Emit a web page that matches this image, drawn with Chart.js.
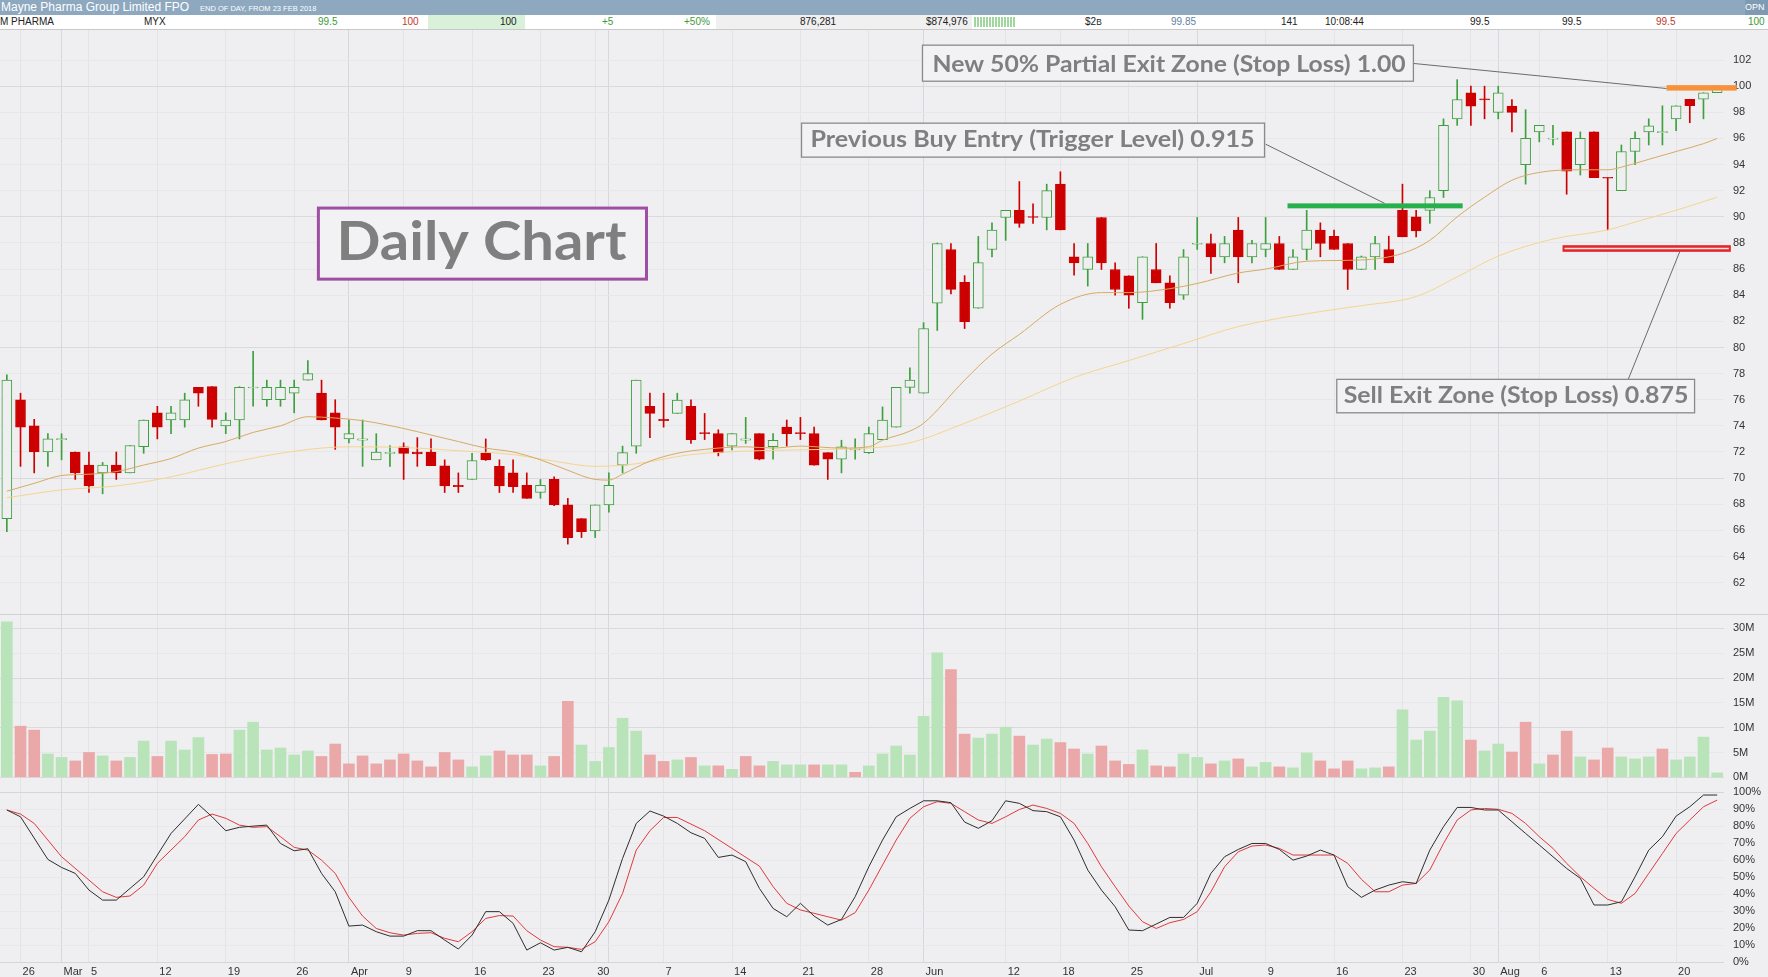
<!DOCTYPE html>
<html lang="en">
<head>
<meta charset="UTF-8">
<title>Mayne Pharma Group Limited FPO - Daily Chart</title>
<script src="https://cdn.jsdelivr.net/npm/chart.js"></script>
<style>
  html, body { margin: 0; padding: 0; background: #efeff1; }
  body { width: 1768px; height: 977px; overflow: hidden; position: relative; font-family: "Liberation Sans", Arial, sans-serif; }
  #hdr { position: absolute; left: 0; top: 0; width: 1768px; height: 15px; background: #8da8bf; color: #fff; }
  #hdr .t { position: absolute; left: 1px; top: 0; font-size: 12px; line-height: 15px; }
  #hdr .s { position: absolute; left: 200px; top: 1px; font-size: 7.5px; line-height: 15px; }
  #hdr .o { position: absolute; left: 1745px; top: 0; width: 23px; height: 15px; background: #7f9bb3; font-size: 9px; line-height: 15px; }
  #row { position: absolute; left: 0; top: 15px; width: 1768px; height: 14px; background: #fff; border-bottom: 1px solid #c9c9cc; font-size: 10px; line-height: 14px; color: #222; }
  #row span { position: absolute; top: 0; white-space: nowrap; }
  #row .g { color: #3c9a3c; }
  #row .r { color: #c0392b; }
  #row .b { color: #5f7f9f; }
  #wrap { position: absolute; left: 0; top: 30px; width: 1768px; height: 947px; }
</style>
</head>
<body>
<div id="hdr">
  <span class="t">Mayne Pharma Group Limited FPO</span>
  <span class="s">END OF DAY, FROM 23 FEB 2018</span>
  <span class="o">OPN</span>
</div>
<div id="row">
  <span style="left:428px;width:97px;height:14px;background:#d8f1d8"></span>
  <span style="left:716px;width:256px;height:14px;background:#f0f0f0"></span>
  <span style="left:974px;top:2px;width:41px;height:10px;background:repeating-linear-gradient(90deg,#9fd79f 0 2px,transparent 2px 3px)"></span>
  <span style="left:0">M PHARMA</span>
  <span style="left:144px">MYX</span>
  <span class="g" style="left:318px">99.5</span>
  <span class="r" style="left:402px">100</span>
  <span style="left:500px">100</span>
  <span class="g" style="left:602px">+5</span>
  <span class="g" style="left:684px">+50%</span>
  <span style="left:800px">876,281</span>
  <span style="left:926px">$874,976</span>
  <span style="left:1085px">$2<small>B</small></span>
  <span class="b" style="left:1171px">99.85</span>
  <span style="left:1281px">141</span>
  <span style="left:1325px">10:08:44</span>
  <span style="left:1470px">99.5</span>
  <span style="left:1562px">99.5</span>
  <span class="r" style="left:1656px">99.5</span>
  <span class="g" style="left:1748px">100</span>
</div>
<div id="wrap"><canvas id="chart"></canvas></div>

<script>
// trading days shown on the chart
const dates = [
  '23 Feb', '26 Feb', '27 Feb', '28 Feb', '1 Mar', '2 Mar',
  '5 Mar', '6 Mar', '7 Mar', '8 Mar', '9 Mar', '12 Mar', '13 Mar', '14 Mar', '15 Mar', '16 Mar',
  '19 Mar', '20 Mar', '21 Mar', '22 Mar', '23 Mar', '26 Mar', '27 Mar', '28 Mar', '29 Mar',
  '3 Apr', '4 Apr', '5 Apr', '6 Apr', '9 Apr', '10 Apr', '11 Apr', '12 Apr', '13 Apr',
  '16 Apr', '17 Apr', '18 Apr', '19 Apr', '20 Apr', '23 Apr', '24 Apr', '26 Apr', '27 Apr', '30 Apr',
  '1 May', '2 May', '3 May', '4 May', '7 May', '8 May', '9 May', '10 May', '11 May',
  '14 May', '15 May', '16 May', '17 May', '18 May', '21 May', '22 May', '23 May', '24 May', '25 May',
  '28 May', '29 May', '30 May', '31 May', '1 Jun', '4 Jun', '5 Jun', '6 Jun', '7 Jun', '8 Jun',
  '12 Jun', '13 Jun', '14 Jun', '15 Jun', '18 Jun', '19 Jun', '20 Jun', '21 Jun', '22 Jun',
  '25 Jun', '26 Jun', '27 Jun', '28 Jun', '29 Jun', '2 Jul', '3 Jul', '4 Jul', '5 Jul', '6 Jul',
  '9 Jul', '10 Jul', '11 Jul', '12 Jul', '13 Jul', '16 Jul', '17 Jul', '18 Jul', '19 Jul', '20 Jul',
  '23 Jul', '24 Jul', '25 Jul', '26 Jul', '27 Jul', '30 Jul', '31 Jul', '1 Aug', '2 Aug', '3 Aug',
  '6 Aug', '7 Aug', '8 Aug', '9 Aug', '10 Aug', '13 Aug', '14 Aug', '15 Aug', '16 Aug', '17 Aug',
  '20 Aug', '21 Aug', '22 Aug', '23 Aug'
];

// prices in cents
const opens = [
  66.9, 76.0, 74.0, 72.0, 72.95, 72.0, 71.0, 70.4, 71.0, 70.4,
  72.4, 75.0, 74.45, 74.45, 76.95, 77.0, 74.0, 74.45, 76.9, 76.0,
  76.0, 76.5, 77.5, 76.5, 75.0, 73.0, 72.9, 71.4, 71.9, 72.4,
  72.0, 72.0, 70.95, 69.45, 69.9, 71.9, 70.9, 70.4, 69.45, 68.9,
  69.9, 67.95, 66.9, 65.95, 67.95, 71.0, 72.45, 75.5, 74.5, 74.95,
  75.5, 73.45, 73.4, 72.45, 72.9, 73.4, 72.4, 73.9, 73.45, 73.4,
  71.95, 71.45, 72.15, 71.95, 72.95, 73.9, 76.95, 76.5, 83.4, 87.5,
  84.98, 83.0, 87.5, 89.95, 90.5, 90.0, 89.95, 92.5, 86.94, 85.97,
  89.95, 85.97, 85.49, 83.42, 85.97, 84.95, 84.0, 87.9, 87.96, 86.94,
  88.98, 86.94, 87.5, 87.96, 85.97, 87.5, 88.98, 88.5, 87.96, 85.97,
  86.94, 87.5, 90.5, 90.0, 90.5, 92.0, 97.5, 99.5, 99.0, 98.0,
  98.47, 94.0, 96.5, 95.95, 96.5, 94.0, 96.5, 93.0, 92.0, 95.0,
  96.5, 96.45, 97.5, 99.0, 99.0, 99.5
];
const highs = [
  77.9, 76.5, 74.5, 73.4, 73.4, 72.0, 72.0, 71.2, 72.0, 72.5,
  74.45, 75.5, 75.5, 76.5, 76.95, 77.0, 75.0, 77.0, 79.7, 77.5,
  77.5, 77.5, 79.0, 77.5, 76.0, 74.45, 74.45, 73.4, 72.5, 72.7,
  73.1, 73.0, 71.4, 70.4, 71.9, 73.0, 71.4, 71.4, 70.4, 69.9,
  70.1, 68.45, 66.9, 67.95, 70.4, 72.45, 77.5, 76.5, 76.5, 76.5,
  76.0, 74.95, 73.7, 73.4, 74.65, 73.4, 73.4, 74.45, 74.65, 73.9,
  71.95, 72.9, 73.0, 73.9, 75.45, 76.95, 78.45, 81.9, 88.0, 87.96,
  85.5, 88.5, 89.54, 90.5, 92.7, 91.0, 92.5, 93.45, 87.96, 87.96,
  89.95, 86.48, 85.49, 86.94, 87.96, 85.49, 87.5, 89.95, 88.67, 88.5,
  89.95, 88.2, 89.95, 88.5, 87.5, 90.5, 89.54, 88.98, 87.96, 87.0,
  88.5, 88.52, 92.5, 90.5, 92.0, 97.5, 100.5, 100.0, 100.0, 100.0,
  98.98, 98.2, 97.0, 97.0, 96.5, 96.5, 96.5, 93.0, 95.5, 96.5,
  97.5, 98.5, 98.5, 99.0, 99.5, 100.0
];
const lows = [
  65.9, 70.9, 70.4, 70.9, 71.4, 69.9, 68.9, 68.8, 69.9, 70.4,
  71.9, 73.0, 73.4, 73.9, 75.5, 73.9, 73.4, 73.0, 75.5, 75.5,
  75.5, 75.0, 77.5, 74.45, 72.2, 72.7, 70.9, 71.4, 70.9, 69.9,
  70.9, 70.95, 68.9, 68.9, 69.9, 71.35, 68.9, 68.9, 68.45, 68.45,
  67.9, 64.95, 65.45, 65.45, 67.4, 70.4, 71.9, 73.1, 73.9, 74.95,
  72.65, 72.95, 71.7, 72.15, 72.65, 71.4, 71.45, 72.45, 72.95, 71.0,
  69.9, 70.4, 71.45, 71.9, 72.95, 73.9, 76.5, 76.5, 81.3, 84.1,
  81.45, 83.0, 86.94, 88.2, 89.2, 89.5, 89.0, 89.0, 85.54, 84.7,
  85.97, 84.0, 83.0, 82.15, 84.95, 83.0, 83.68, 87.5, 85.67, 86.48,
  84.95, 86.48, 86.94, 85.97, 85.97, 86.7, 86.94, 87.5, 84.44, 85.97,
  85.97, 86.48, 88.47, 88.47, 89.5, 91.48, 97.0, 97.0, 97.5, 97.5,
  96.5, 92.5, 95.74, 95.5, 91.73, 93.2, 93.0, 89.0, 92.0, 94.0,
  95.5, 95.5, 96.6, 97.2, 97.5, 99.5
];
const closes = [
  77.5, 73.9, 72.0, 73.0, 73.0, 70.4, 69.4, 71.0, 70.4, 72.5,
  74.45, 73.9, 75.0, 76.0, 76.5, 74.5, 74.45, 76.95, 76.95, 76.95,
  76.95, 76.95, 78.0, 74.45, 73.9, 73.4, 73.0, 72.0, 71.95, 71.9,
  71.85, 70.95, 69.4, 69.35, 71.35, 71.4, 69.4, 69.35, 68.45, 69.45,
  67.95, 65.45, 65.9, 67.95, 69.45, 71.95, 77.5, 74.95, 74.4, 75.97,
  72.95, 73.4, 71.95, 73.4, 73.0, 71.45, 72.9, 73.4, 73.4, 71.0,
  71.45, 72.4, 72.2, 73.4, 74.45, 76.95, 77.5, 81.45, 87.96, 84.45,
  81.97, 86.5, 88.98, 90.5, 89.5, 89.95, 92.0, 89.0, 86.48, 86.94,
  86.48, 84.44, 84.0, 86.94, 84.95, 83.42, 86.94, 87.96, 86.94, 87.96,
  86.94, 87.96, 87.96, 85.97, 86.94, 88.98, 87.96, 87.5, 85.97, 86.94,
  87.96, 86.48, 88.47, 88.93, 91.48, 97.0, 98.98, 98.47, 98.95, 99.5,
  98.0, 96.0, 97.0, 96.0, 93.5, 96.0, 93.0, 92.95, 95.0, 96.0,
  96.96, 96.5, 98.5, 98.5, 99.5, 100.0
];

// volume, millions of shares
const volumes = [
  31.3, 10.3, 9.5, 4.7, 4.0, 3.3, 5.0, 4.3, 3.3, 4.0,
  7.3, 4.2, 7.3, 5.5, 8.0, 4.6, 4.7, 9.5, 11.1, 5.5,
  5.9, 4.5, 5.3, 4.2, 6.7, 2.7, 4.3, 2.7, 3.5, 4.7,
  3.3, 2.1, 5.0, 3.5, 2.1, 4.3, 5.3, 4.5, 4.5, 2.3,
  4.2, 15.3, 6.5, 3.2, 6.0, 11.9, 9.3, 4.5, 3.2, 3.5,
  4.0, 2.3, 2.3, 1.6, 4.2, 2.3, 3.2, 2.5, 2.5, 2.5,
  2.5, 2.5, 1.0, 2.3, 4.7, 6.3, 4.5, 12.3, 25.1, 21.7,
  8.7, 7.9, 8.7, 10.1, 8.3, 6.5, 7.7, 7.0, 5.7, 4.7,
  6.3, 3.3, 2.6, 5.5, 2.3, 2.1, 4.7, 4.0, 2.7, 3.3,
  3.7, 2.1, 3.0, 2.1, 1.9, 4.9, 3.3, 1.7, 3.3, 1.7,
  1.9, 2.1, 13.6, 7.5, 9.3, 16.1, 15.4, 7.5, 5.3, 6.7,
  5.1, 11.1, 2.7, 4.5, 9.3, 4.1, 3.5, 5.9, 4.1, 3.7,
  4.1, 5.7, 3.5, 4.1, 8.1, 0.88
];

// slow stochastic, %K (black) and %D (red)
const stochK = [
  89.6, 85.6, null, 60.5, 55.8, 52.3, 42.5, 36.6, 36.6, null,
  50.3, 63.1, 75.8, null, 92.9, 85.6, 77.4, 79.4, 80.1, 80.7,
  69.9, 65.6, 66.8, 52.3, 41.5, 21.3, 21.9, 18, 15.4, 15.4,
  18.6, 18.6, 13.1, 7.8, 16, 29.8, 29.8, 22.9, 7.2, 11.5,
  7.2, 8.8, 6.2, 18, 36.6, 61.1, 81.7, 89, 86, 81.7,
  76.2, 72.9, 61.7, 63.1, 59.2, 43.5, 31.7, 26.8, 34.7, 27.2,
  21.9, 25.2, 38.6, 56.2, 71.9, 85.6, 90.5, 95, 95, 93.9,
  82.5, 78.8, 83.3, 95, 93.5, 89.2, 88.6, 85.6, 71.9, 54.3,
  42.5, 32.7, 19, 18.6, 22.5, 26.4, 26.4, 34.7, 52.3, 62.1,
  66.4, 69.9, 69.9, 66.4, 60.1, 62.5, 66, 63.1, 44.5, 38.2,
  42.5, 45.4, 47.4, 46.4, 66, 79.8, 91.1, 91.1, 89.6, 89.6,
  82.7, 75.8, 69, 62.1, 55.2, 49.4, 33.7, 33.7, 35.6, 50.3,
  66, 73.9, 86, 91.5, 98.4, 98.4
];
const stochD = [
  89.6, 87.2, 81.7, null, 62.1, null, 48.4, 41.5, 38.2, 39,
  45.4, 58.2, null, 73.9, 83.7, 87.2, 84.7, 80.7, 79.4, 79.8,
  73.9, 67.6, 66, 60.1, 52.3, 38.2, 27.2, 19.9, 17.4, 16,
  17, 17.4, 14.1, 12.1, 18, 25.8, 27.5, 27.2, 18.6, 13.1,
  9.2, 8.8, 7.6, 12.1, 23.9, 40.5, 66, 77.4, 85.2, 85.2,
  null, 77.4, null, 67, null, 56.6, 44.5, 34.7, 30.8, 28.8,
  26.8, 24.8, 29.2, 42.5, 57.2, 71.9, 84.7, 91.5, 94.5, 93.5,
  88.6, 83.7, 81.7, 85.6, 89.9, 92.5, 90.5, 87.6, 81.7, 69.9,
  56.2, 44.5, 33.1, 23.9, 19.9, 23.3, 25.2, 29.8, 41.5, 56.2,
  65, 68.4, 69, 67, 63.1, 63.1, 63.1, 63.1, 58.2, 48.8,
  41.5, 41.5, 45.4, 46.4, 54.3, 69.9, 83.7, 89.6, 90.5, 90,
  87.6, 81.7, 73.9, 67, 58.2, 50.3, 43.5, 37, 34.7, 40.5,
  52.3, 64, 75.8, 83.7, 91.5, 95.4
];

// moving averages: [day index, value]
const maShort = [
  [0, 69.0], [2, 69.6], [4, 70.2], [6, 70.3], [8, 70.5], [10, 71.0], [12, 71.5], [14, 72.3],
  [16, 72.8], [18, 73.5], [20, 74.0], [22, 74.7], [24, 74.6], [26, 74.4], [29, 73.8], [31, 73.3],
  [33, 72.8], [35, 72.3], [37, 72.0], [39, 71.4], [41, 70.6], [43, 69.9], [44, 69.85], [45, 70.3],
  [47, 71.3], [49, 71.9], [51, 72.2], [54, 72.4], [56, 72.3], [58, 72.45], [61, 72.3], [63, 72.4],
  [64, 72.9], [66, 73.6], [67, 74.2], [70, 77.5], [72, 79.5], [74, 81.0], [77, 83.3], [80, 84.2],
  [82, 84.2], [85, 84.5], [87, 84.9], [90, 85.7], [92, 86.0], [95, 86.6], [99, 86.7], [102, 87.2],
  [104, 88.2], [106, 90.0], [108, 91.5], [110, 92.8], [112, 93.4], [115, 93.6], [117, 93.6],
  [118, 93.8], [120, 94.4], [122, 95.0], [124, 95.6], [125, 96.0]
];
const maLong = [
  [0, 68.5], [4, 69.1], [8, 69.4], [12, 70.1], [16, 71.1], [20, 71.9], [23, 72.3], [25, 72.4],
  [29, 72.35], [33, 72.1], [37, 71.8], [40, 71.3], [43, 70.9], [46, 71.1], [50, 71.8], [55, 72.1],
  [60, 72.2], [63, 72.3], [66, 72.7], [70, 74.2], [74, 75.9], [78, 77.7], [82, 79.0], [86, 80.3],
  [90, 81.6], [96, 82.75], [99, 83.2], [103, 83.9], [106, 85.4], [109, 87.0], [113, 88.3],
  [117, 89.0], [119, 89.6], [122, 90.5], [125, 91.5]
];

const tickLabels = {
  '26 Feb': '26', '1 Mar': 'Mar', '5 Mar': '5', '12 Mar': '12', '19 Mar': '19', '26 Mar': '26',
  '3 Apr': 'Apr', '9 Apr': '9', '16 Apr': '16', '23 Apr': '23', '30 Apr': '30', '7 May': '7',
  '14 May': '14', '21 May': '21', '28 May': '28', '1 Jun': 'Jun', '12 Jun': '12', '18 Jun': '18',
  '25 Jun': '25', '2 Jul': 'Jul', '9 Jul': '9', '16 Jul': '16', '23 Jul': '23', '30 Jul': '30',
  '1 Aug': 'Aug', '6 Aug': '6', '13 Aug': '13', '20 Aug': '20'
};
const monthStarts = ['1 Mar', '3 Apr', '1 May', '1 Jun', '2 Jul', '1 Aug'];
const priceTicks = [62, 64, 66, 68, 70, 72, 74, 76, 78, 80, 82, 84, 86, 88, 90, 92, 94, 96, 98, 100, 102];
const volumeTicks = [0, 5, 10, 15, 20, 25, 30];
const stochTicks = [0, 10, 20, 30, 40, 50, 60, 70, 80, 90, 100];

// hand-drawn notes on the chart, positioned in day index / price units
const levels = [
  { from: 121.3, to: 126.43, top: 100.08, bottom: 99.66, color: '#f7923a' },
  { from: 93.6, to: 106.4, top: 91.03, bottom: 90.65, color: '#27b04b' },
  { from: 113.7, to: 126.0, top: 87.83, bottom: 87.32, color: '#e3262b', inner: '#f9e2e2' }
];
const notes = [
  { text: 'New 50% Partial Exit Zone (Stop Loss) 1.00', box: [66.92, 102.8, 103.14, 100.38],
    span: [67.65, 102.23], base: 101.09, size: 23, line: [102.8, 101.74, 121.3, 99.82] },
  { text: 'Previous Buy Entry (Trigger Level) 0.915', box: [58.08, 91.92, 97.17, 94.57],
    span: [58.73, 91.19], base: 95.31, size: 22, line: [92.0, 95.56, 100.7, 91.03] },
  { text: 'Sell Exit Zone (Stop Loss) 0.875', box: [97.2, 123.35, 77.56, 75.0],
    span: [97.7, 122.9], base: 75.77, size: 23, line: [118.5, 77.56, 122.35, 87.55] },
  { text: 'Daily Chart', box: [22.77, 46.75, 90.67, 85.23], span: [24.09, 45.29], base: 86.69,
    size: 53, frame: '#9e4fa3', frameWidth: 3 }
];

const BG = '#efeff1';
const UP = '#3e9f3e';
const DOWN = '#cc0000';
const isUp = i => closes[i] >= opens[i];
const volUp = i => i === 0 || closes[i] >= closes[i - 1];
const FONT = '"Liberation Sans", Arial, sans-serif';

function squeezeText(ctx, text, left, right, base, size) {
  ctx.font = 'bold ' + size + 'px Lato, "Open Sans", sans-serif';
  const w = ctx.measureText(text).width;
  ctx.save();
  ctx.translate(left, base);
  ctx.scale((right - left) / w, 1);
  ctx.fillStyle = '#7f7f7f';
  ctx.textAlign = 'left';
  ctx.textBaseline = 'alphabetic';
  ctx.fillText(text, 0, 0);
  ctx.restore();
}

const overlay = {
  id: 'overlay',
  beforeDraw(chart) {
    const ctx = chart.ctx;
    ctx.save();
    ctx.fillStyle = BG;
    ctx.fillRect(0, 0, chart.width, chart.height);
    ctx.restore();
  },
  beforeDatasetsDraw(chart) {
    const ctx = chart.ctx;
    const yv = Math.round(chart.scales.yVol.top) + 0.5;
    ctx.save();
    ctx.strokeStyle = '#d2d2d6';
    ctx.lineWidth = 1;
    ctx.beginPath();
    ctx.moveTo(0, yv);
    ctx.lineTo(chart.width, yv);
    ctx.stroke();
    ctx.restore();
  },
  afterDraw(chart) {
    const ctx = chart.ctx;
    const x = chart.scales.x, y = chart.scales.y;
    const px = i => x.getPixelForValue(i);
    const py = v => y.getPixelForValue(v);
    ctx.save();

    // leader lines
    ctx.strokeStyle = '#6b6b6b';
    ctx.lineWidth = 1;
    notes.forEach(n => {
      if (!n.line) return;
      ctx.beginPath();
      ctx.moveTo(px(n.line[0]), py(n.line[1]));
      ctx.lineTo(px(n.line[2]), py(n.line[3]));
      ctx.stroke();
    });

    // price levels
    levels.forEach(l => {
      const x0 = px(l.from), x1 = px(l.to), y0 = py(l.top), y1 = py(l.bottom);
      ctx.fillStyle = l.color;
      ctx.fillRect(x0, y0, x1 - x0, y1 - y0);
      if (l.inner) {
        ctx.fillStyle = l.inner;
        ctx.fillRect(x0 + 2, (y0 + y1) / 2 - 0.75, x1 - x0 - 4, 1.5);
      }
    });

    // text boxes
    notes.forEach(n => {
      const [i0, i1, top, bottom] = n.box;
      const x0 = px(i0), x1 = px(i1), y0 = py(top), y1 = py(bottom);
      ctx.fillStyle = '#f2f2f4';
      ctx.fillRect(x0, y0, x1 - x0, y1 - y0);
      ctx.strokeStyle = n.frame || '#8a8a8a';
      ctx.lineWidth = n.frameWidth || 1.3;
      ctx.strokeRect(x0, y0, x1 - x0, y1 - y0);
      squeezeText(ctx, n.text, px(n.span[0]), px(n.span[1]), py(n.base), n.size);
    });
    ctx.restore();
  }
};

function fixedRightAxis(scale) {
  scale.width = 44;
  scale.paddingTop = 0;
  scale.paddingBottom = 0;
}

const axisTicks = { autoSkip: false, padding: 9, color: '#333', font: { size: 11, family: FONT } };

new Chart(document.getElementById('chart'), {
  type: 'bar',
  data: {
    labels: dates,
    datasets: [
      {
        label: 'Range',
        data: lows.map((l, i) => [l, highs[i]]),
        backgroundColor: c => isUp(c.dataIndex) ? UP : DOWN,
        barThickness: 1,
        grouped: false,
        order: 3,
        yAxisID: 'y'
      },
      {
        label: 'Open / Close',
        data: opens.map((o, i) => [o, closes[i]]),
        backgroundColor: c => isUp(c.dataIndex) ? BG : DOWN,
        borderColor: c => isUp(c.dataIndex) ? UP : DOWN,
        borderWidth: 1,
        borderSkipped: false,
        barThickness: 10,
        minBarLength: 1,
        grouped: false,
        order: 2,
        yAxisID: 'y'
      },
      {
        type: 'line',
        label: 'Short MA',
        data: maShort.map(([i, v]) => ({ x: dates[i], y: v })),
        borderColor: '#d8aa62',
        borderWidth: 1,
        pointRadius: 0,
        cubicInterpolationMode: 'monotone',
        spanGaps: true,
        order: 1,
        yAxisID: 'y'
      },
      {
        type: 'line',
        label: 'Long MA',
        data: maLong.map(([i, v]) => ({ x: dates[i], y: v })),
        borderColor: '#f4d58e',
        borderWidth: 1,
        pointRadius: 0,
        cubicInterpolationMode: 'monotone',
        spanGaps: true,
        order: 1,
        yAxisID: 'y'
      },
      {
        label: 'Volume',
        data: volumes,
        backgroundColor: c => volUp(c.dataIndex) ? '#b9e4b9' : '#eba8a9',
        barThickness: 11,
        grouped: false,
        order: 4,
        yAxisID: 'yVol'
      },
      {
        type: 'line',
        label: '%K',
        data: stochK,
        borderColor: '#2e2e2e',
        borderWidth: 1,
        pointRadius: 0,
        spanGaps: true,
        order: 1,
        yAxisID: 'yStoch'
      },
      {
        type: 'line',
        label: '%D',
        data: stochD,
        borderColor: '#e0393e',
        borderWidth: 1,
        pointRadius: 0,
        spanGaps: true,
        order: 1,
        yAxisID: 'yStoch'
      }
    ]
  },
  options: {
    responsive: true,
    maintainAspectRatio: false,
    animation: false,
    events: [],
    layout: { padding: 0 },
    plugins: { legend: { display: false }, tooltip: { enabled: false } },
    scales: {
      x: {
        type: 'category',
        offset: true,
        border: { display: false },
        grid: {
          offset: false,
          drawTicks: false,
          color: c => {
            const d = dates[c.index];
            if (monthStarts.includes(d)) return '#d8d8dc';
            if (tickLabels[d]) return '#e4e4e7';
            return 'rgba(0,0,0,0)';
          }
        },
        ticks: {
          autoSkip: false,
          maxRotation: 0,
          minRotation: 0,
          align: 'start',
          labelOffset: 2,
          padding: 2,
          color: '#333',
          font: { size: 11, family: FONT },
          callback: (v, i) => tickLabels[dates[i]] || ''
        },
        afterFit: s => { s.height = 14; s.paddingLeft = 0; s.paddingRight = 0; }
      },
      y: {
        type: 'linear',
        position: 'right',
        stack: 'panes',
        stackWeight: 584,
        min: 59.6,
        max: 104.3,
        border: { display: false },
        grid: { drawTicks: false, color: c => c.tick.value % 10 === 0 ? '#dadade' : '#e7e7ea' },
        ticks: axisTicks,
        afterBuildTicks: s => { s.ticks = priceTicks.map(v => ({ value: v })); },
        afterFit: fixedRightAxis
      },
      yVol: {
        type: 'linear',
        position: 'right',
        stack: 'panes',
        stackWeight: 168,
        min: -0.95,
        max: 32.9,
        border: { display: false },
        grid: { drawTicks: false, color: c => c.tick.value % 10 === 0 ? '#dadade' : '#e8e8eb' },
        ticks: { ...axisTicks, callback: v => v + 'M' },
        afterBuildTicks: s => { s.ticks = volumeTicks.map(v => ({ value: v })); },
        afterFit: fixedRightAxis
      },
      yStoch: {
        type: 'linear',
        position: 'right',
        stack: 'panes',
        stackWeight: 181,
        min: -0.41,
        max: 106.06,
        border: { display: false },
        grid: { drawTicks: false, color: c => (c.tick.value === 0 || c.tick.value === 100) ? '#d6d6da' : '#e8e8eb' },
        ticks: { ...axisTicks, callback: v => v + '%' },
        afterBuildTicks: s => { s.ticks = stochTicks.map(v => ({ value: v })); },
        afterFit: fixedRightAxis
      }
    }
  },
  plugins: [overlay]
});
</script>
</body>
</html>
